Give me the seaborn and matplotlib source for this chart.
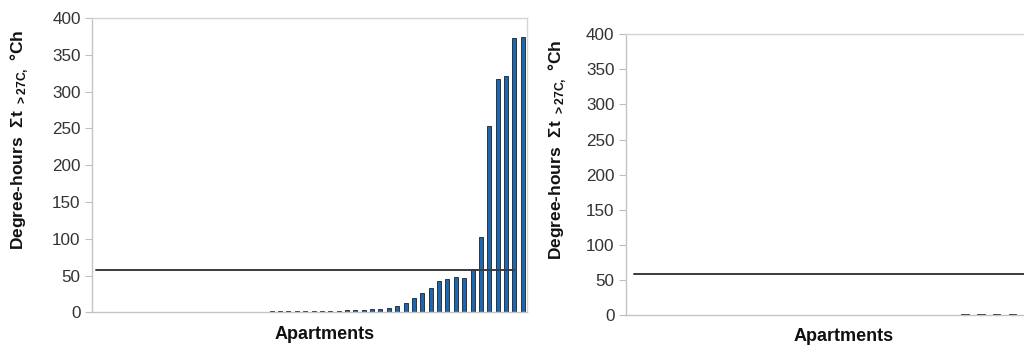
import numpy as np
import pandas as pd
import matplotlib
matplotlib.use('Agg')
import matplotlib.pyplot as plt
import seaborn as sns

# Degree-hours above 27C for each apartment, sorted ascending
left_hours = [0, 0, 0, 0, 0, 0, 0, 0, 0, 0,
              0, 0, 0, 0, 0, 0, 0, 0, 0, 0,
              0, 1.6, 1.6, 1.6, 1.6, 1.6, 1.6, 1.6, 1.6, 2,
              3, 3, 3.5, 5, 5, 6, 8, 12, 19, 25.8,
              33.5, 42.6, 45.3, 47.6, 47.1, 58.4, 102.6, 253.6, 317.3, 321.8,
              373, 374.6]
right_hours = [0, 0, 0, 0, 0, 0, 0, 0, 0, 0,
               0, 0, 0, 0, 0, 0, 0, 0, 0, 0,
               0, 1.6, 1.6, 1.6, 1.6, 1.6]

threshold = 58          # limit line, degree-hours
left_line_len = 51      # the limit line covers the first 51 apartments on the left
y_ticks = [0, 50, 100, 150, 200, 250, 300, 350, 400]

bar_color = '#1a68b3'
edge_color = '#333333'
line_color = '#3a3a3a'
frame_color = '#d4d4d4'

sns.set_theme(style="white")
plt.rcParams['font.family'] = ['Liberation Sans', 'DejaVu Sans']

ylabel = "Degree-hours  \u03a3t $_{\\mathregular{>27C,}}$ \u00b0Ch"


def draw_panel(ax, hours, line_len):
    df = pd.DataFrame({'apartment': np.arange(len(hours)), 'hours': hours})
    sns.barplot(data = df, x = 'apartment', y = 'hours', ax = ax,
                color = bar_color, width = 0.48, edgecolor = edge_color,
                linewidth = 0.7, saturation = 1)
    line_df = pd.DataFrame({'apartment': np.arange(line_len),
                            'limit': np.full(line_len, threshold)})
    sns.lineplot(data = line_df, x = 'apartment', y = 'limit', ax = ax,
                 color = line_color, linewidth = 1.4)
    ax.set_xlim(-0.5, len(hours) - 0.5)
    ax.set_ylim(0, 400)
    ax.set_yticks(y_ticks)
    ax.set_xticks([])
    ax.tick_params(axis = 'y', left = True, length = 5, width = 0.8,
                   color = '#bfbfbf', labelcolor = '#333333', labelsize = 12.3, pad = 3)
    for side in ['top', 'right', 'bottom', 'left']:
        ax.spines[side].set_visible(True)
        ax.spines[side].set_color(frame_color)
        ax.spines[side].set_linewidth(1.0)
    ax.spines['left'].set_color('#c4c4c4')
    ax.spines['bottom'].set_color('#c4c4c4')
    ax.set_xlabel("Apartments", fontsize = 13, fontweight = 'bold', color = '#111111')
    ax.set_ylabel(ylabel, fontsize = 12.5, fontweight = 'bold', color = '#111111')
    ax.xaxis.label.set_va('center')
    ax.yaxis.label.set_va('center')


fig = plt.figure(figsize = (10.24, 3.47), dpi = 100)
ax1 = fig.add_axes([0.0896, 0.100, 0.4250, 0.848])
ax2 = fig.add_axes([0.6110, 0.0922, 0.4007, 0.809])

draw_panel(ax1, left_hours, left_line_len)
draw_panel(ax2, right_hours, len(right_hours))

ax1.xaxis.set_label_coords(0.534, -0.074)
ax1.yaxis.set_label_coords(-0.167, 0.585)
ax2.xaxis.set_label_coords(0.53, -0.078)
ax2.yaxis.set_label_coords(-0.1675, 0.588)

fig.savefig("out.png", dpi = 100)
plt.close(fig)
